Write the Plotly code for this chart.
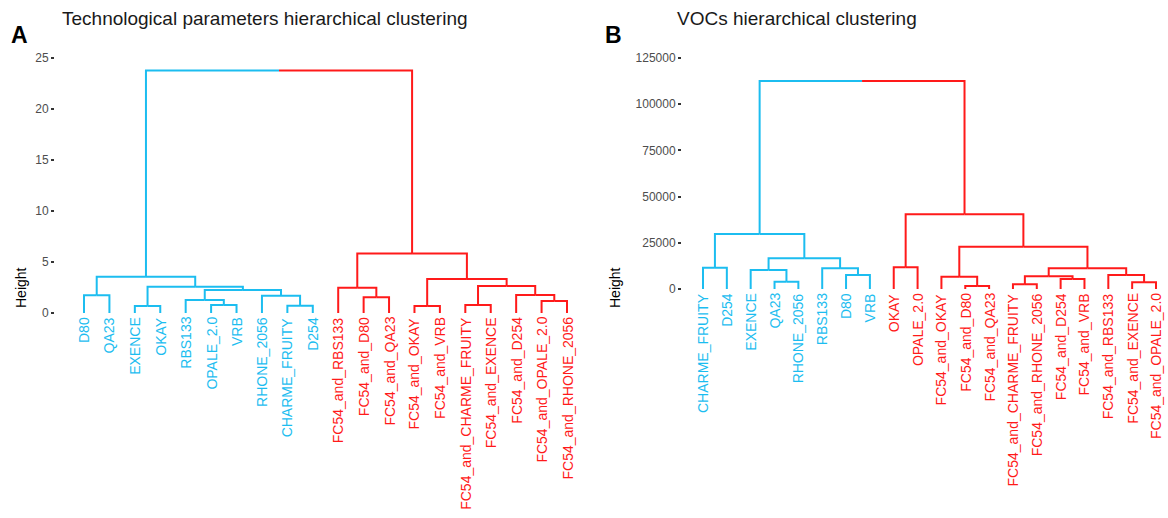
import plotly.graph_objects as go

# ---------------- Data ----------------
# Panel A: technological parameters (leaf order left -> right)
leaves_a = ["D80", "QA23", "EXENCE", "OKAY", "RBS133", "OPALE_2.0", "VRB",
            "RHONE_2056", "CHARME_FRUITY", "D254",
            "FC54_and_RBS133", "FC54_and_D80", "FC54_and_QA23", "FC54_and_OKAY",
            "FC54_and_VRB", "FC54_and_CHARME_FRUITY", "FC54_and_EXENCE",
            "FC54_and_D254", "FC54_and_OPALE_2.0", "FC54_and_RHONE_2056"]
n_blue_a = 10
# hclust-style merges: negative = leaf (1-based), positive = earlier merge (1-based)
merge_left_a = [-3, -14, -9, -6, -16, -19, -5, -12, -8, -1, -18, 7, -11, 1, 5, 2, 10, 13, 17]
merge_right_a = [-4, -15, -10, -7, -17, -20, 4, -13, 3, -2, 6, 9, 8, 12, 11, 15, 14, 16, 18]
merge_height_a = [0.68, 0.68, 0.72, 0.78, 0.78, 1.17, 1.27, 1.54, 1.70, 1.73, 1.76,
                  2.25, 2.48, 2.57, 2.64, 3.33, 3.55, 5.84, 23.78]
ticks_a = [0, 5, 10, 15, 20, 25]

# Panel B: VOCs
leaves_b = ["CHARME_FRUITY", "D254", "EXENCE", "QA23", "RHONE_2056", "RBS133", "D80", "VRB",
            "OKAY", "OPALE_2.0", "FC54_and_OKAY", "FC54_and_D80", "FC54_and_QA23",
            "FC54_and_CHARME_FRUITY", "FC54_and_RHONE_2056", "FC54_and_D254",
            "FC54_and_VRB", "FC54_and_RBS133", "FC54_and_EXENCE", "FC54_and_OPALE_2.0"]
n_blue_b = 8
merge_left_b = [-12, -14, -19, -4, -16, -11, 2, -7, -18, -3, -6, 7, -1, -9, 10, 6, 13, 14, 17]
merge_right_b = [-13, -15, -20, -5, -17, 1, 5, -8, 3, 4, 8, 9, -2, -10, 11, 12, 15, 16, 18]
merge_height_b = [1620, 2530, 3610, 3970, 5410, 6660, 6870, 7570, 7570, 10280, 11200,
                  11200, 11530, 11740, 16600, 22890, 29760, 40420, 112550]
ticks_b = [0, 25000, 50000, 75000, 100000, 125000]

BLUE = "#1CBDF0"
RED = "#FF1A1A"
W, H = 1168, 518
FONT = "Liberation Sans, Arial, sans-serif"


def dendro_segments(n_leaves, n_blue, left, right, height):
    """Return dict color -> (xs, ys) line segments, following the merge table."""
    pos = {}
    col = {}

    def node(ref):
        if ref < 0:
            i = -ref
            return float(i), 0.0, (BLUE if i <= n_blue else RED)
        return pos[ref][0], pos[ref][1], col[ref]

    segs = {BLUE: ([], []), RED: ([], [])}
    for k in range(len(left)):
        xl, hl, cl = node(left[k])
        xr, hr, cr = node(right[k])
        h = height[k]
        xm = (xl + xr) / 2
        xs, ys = segs[cl]
        xs += [xl, xl, xm, None]
        ys += [hl, h, h, None]
        xs, ys = segs[cr]
        xs += [xm, xr, xr, None]
        ys += [h, h, hr, None]
        pos[k + 1] = (xm, h)
        col[k + 1] = cl if cl == cr else None
    return segs


fig = go.Figure()

# pixel geometry of the two panels
panels = [
    dict(leaves=leaves_a, nb=n_blue_a, L=merge_left_a, R=merge_right_a, Hh=merge_height_a,
         ticks=ticks_a, xa="x", ya="y", px_left=55, px_right=596, leaf1=84, leafN=567,
         y0=313, px_per_unit=51.0 / 5, title="Technological parameters hierarchical clustering",
         title_x=60, letter="A", letter_x=9, height_x=21),
    dict(leaves=leaves_b, nb=n_blue_b, L=merge_left_b, R=merge_right_b, Hh=merge_height_b,
         ticks=ticks_b, xa="x2", ya="y2", px_left=682, px_right=1168, leaf1=703, leafN=1156,
         y0=289, px_per_unit=46.2 / 25000, title="VOCs hierarchical clustering",
         title_x=675, letter="B", letter_x=603, height_x=615),
]

top_px, bot_px = 45, 515
annotations = []
for i, p in enumerate(panels):
    segs = dendro_segments(len(p["leaves"]), p["nb"], p["L"], p["R"], p["Hh"])
    for c, (xs, ys) in segs.items():
        fig.add_trace(go.Scatter(x=xs, y=ys, mode="lines", line=dict(color=c, width=2),
                                 xaxis=p["xa"], yaxis=p["ya"], hoverinfo="skip",
                                 showlegend=False))
    n = len(p["leaves"])
    s = (p["leafN"] - p["leaf1"]) / (n - 1)
    xr = [1 - (p["leaf1"] - p["px_left"]) / s, n + (p["px_right"] - p["leafN"]) / s]
    yr = [(p["y0"] - bot_px) / p["px_per_unit"], (p["y0"] - top_px) / p["px_per_unit"]]
    sfx = "" if i == 0 else "2"
    fig.layout["xaxis" + sfx] = dict(domain=[p["px_left"] / W, p["px_right"] / W], range=xr,
                                      visible=False, fixedrange=True)
    fig.layout["yaxis" + sfx] = dict(domain=[(H - bot_px) / H, (H - top_px) / H], range=yr,
                                      anchor=p["xa"], tickmode="array", tickvals=p["ticks"],
                                      ticktext=[str(t) for t in p["ticks"]],
                                      ticks="outside", ticklen=3, tickwidth=1.5,
                                      tickcolor="#333333", showline=False, showgrid=False,
                                      zeroline=False,
                                      tickfont=dict(family=FONT, size=12, color="#4D4D4D"))
    # leaf labels
    for j, lab in enumerate(p["leaves"]):
        annotations.append(dict(x=j + 1, y=0, xref=p["xa"], yref=p["ya"], text=lab,
                                textangle=-90, showarrow=False, xanchor="center",
                                yanchor="top", yshift=-2,
                                font=dict(family=FONT, size=14,
                                          color=BLUE if j < p["nb"] else RED)))
    # titles
    annotations.append(dict(x=p["title_x"] / W, y=1 - 18 / H, xref="paper", yref="paper",
                            text=p["title"], showarrow=False, xanchor="left", yanchor="middle",
                            font=dict(family=FONT, size=19, color="#1A1A1A")))
    annotations.append(dict(x=p["letter_x"] / W, y=1 - 35 / H, xref="paper", yref="paper",
                            text="<b>" + p["letter"] + "</b>", showarrow=False,
                            xanchor="left", yanchor="middle",
                            font=dict(family=FONT, size=23, color="black")))
    annotations.append(dict(x=p["height_x"] / W, y=1 - 288 / H, xref="paper", yref="paper",
                            text="Height", textangle=-90, showarrow=False,
                            xanchor="center", yanchor="middle",
                            font=dict(family=FONT, size=14, color="black")))

fig.update_layout(width=W, height=H, margin=dict(l=0, r=0, t=0, b=0),
                  plot_bgcolor="white", paper_bgcolor="white", annotations=annotations)

fig.write_html("out.html")
